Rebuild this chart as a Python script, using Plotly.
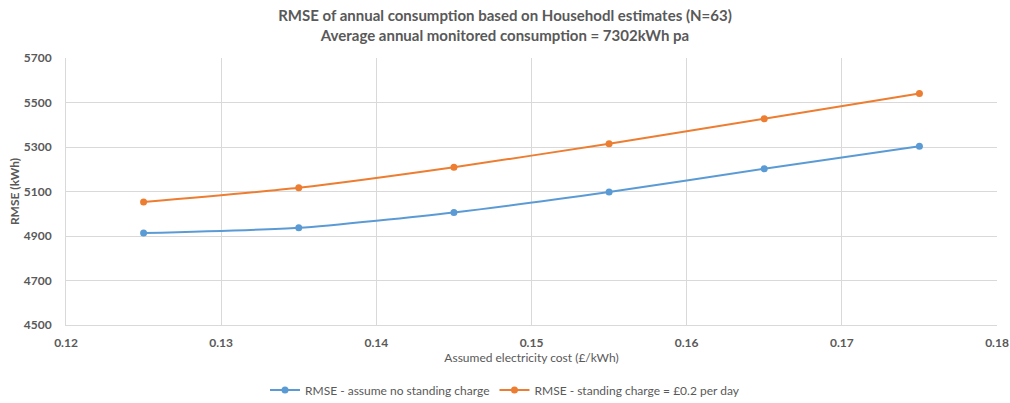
import plotly.graph_objects as go

cost = [0.125, 0.135, 0.145, 0.155, 0.165, 0.175]
rmse_no_charge = [4913, 4937, 5006, 5098, 5202, 5303]
rmse_charge = [5053, 5117, 5209, 5315, 5427, 5540]
x_ticks = [0.12, 0.13, 0.14, 0.15, 0.16, 0.17, 0.18]
y_ticks = [4500, 4700, 4900, 5100, 5300, 5500, 5700]

FONT = "Lato, Liberation Sans, Arial"
GRAY = "#595959"

fig = go.Figure()
fig.add_trace(go.Scatter(x=cost, y=rmse_no_charge, mode="lines+markers",
                         name="RMSE - assume no standing charge",
                         line=dict(color="#5B9BD5", width=2, shape="spline", smoothing=0.6),
                         marker=dict(color="#5B9BD5", size=7)))
fig.add_trace(go.Scatter(x=cost, y=rmse_charge, mode="lines+markers",
                         name="RMSE - standing charge = £0.2 per day",
                         line=dict(color="#ED7D31", width=2, shape="spline", smoothing=0.6),
                         marker=dict(color="#ED7D31", size=7)))

fig.update_layout(
    width=1010, height=403,
    margin=dict(l=66, r=13, t=58, b=78, autoexpand=False),
    paper_bgcolor="white", plot_bgcolor="white",
    font=dict(family=FONT, color=GRAY, size=12),
    title=dict(text="<b>RMSE of annual consumption based on Househodl estimates (N=63)</b><br><b>Average annual monitored consumption = 7302kWh pa</b>",
               x=0.5, xanchor="center", yref="container", y=1 - 21 / 403, yanchor="middle",
               font=dict(family=FONT, size=15, color=GRAY)),
    xaxis=dict(range=[0.12, 0.18], tickvals=x_ticks, ticktext=[f"<b>{v:.2f}</b>" for v in x_ticks],
               showgrid=True, gridcolor="#D9D9D9", gridwidth=1, zeroline=False,
               showline=True, linecolor="#D9D9D9", automargin=False,
               title=dict(text="Assumed electricity cost (£/kWh)", font=dict(size=12, color=GRAY), standoff=4),
               tickfont=dict(size=12, color=GRAY), ticklabelstandoff=7),
    yaxis=dict(range=[4500, 5700], tickvals=y_ticks, ticktext=[f"<b>{v}</b>" for v in y_ticks],
               showgrid=True, gridcolor="#D9D9D9", gridwidth=1, zeroline=False,
               showline=True, linecolor="#D9D9D9", automargin=False,
               title=dict(text="<b>RMSE (kWh)</b>", font=dict(size=12, color=GRAY), standoff=1),
               tickfont=dict(size=12, color=GRAY), ticklabelstandoff=11),
    legend=dict(orientation="h", xref="container", x=0.5, xanchor="center", y=-65 / 267, yanchor="middle",
                font=dict(size=12, color=GRAY), itemwidth=30),
    showlegend=True,
)

fig.write_html("out.html", config={"displayModeBar": False},
               post_script="document.body.style.margin='0px';")
